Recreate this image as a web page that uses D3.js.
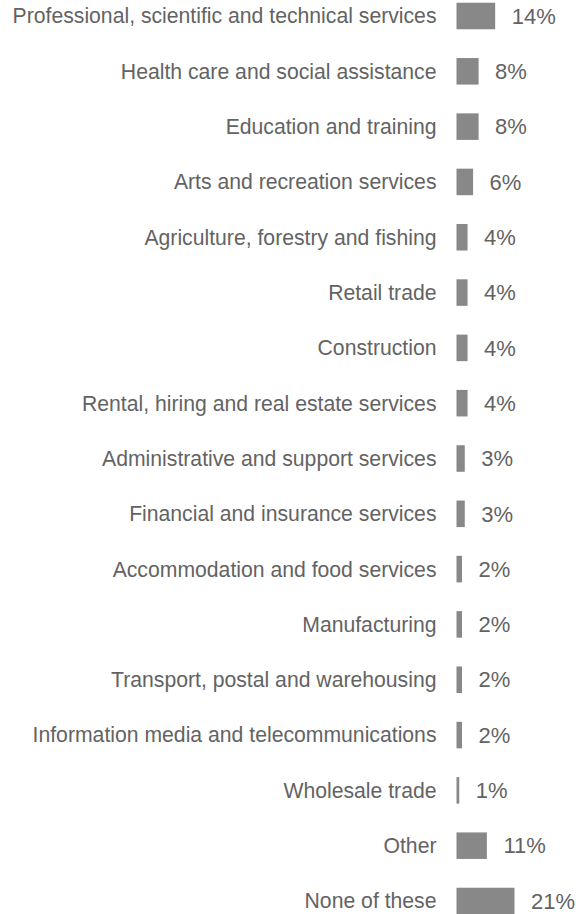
<!DOCTYPE html>
<html>
<head>
<meta charset="utf-8">
<script src="https://cdn.jsdelivr.net/npm/d3@7"></script>
<style>
  html, body { margin: 0; padding: 0; background: #ffffff; }
  svg { display: block; }
</style>
</head>
<body>
<div id="chart"></div>
<script>
// Share of respondents by industry
const categories = [
  "Professional, scientific and technical services",
  "Health care and social assistance",
  "Education and training",
  "Arts and recreation services",
  "Agriculture, forestry and fishing",
  "Retail trade",
  "Construction",
  "Rental, hiring and real estate services",
  "Administrative and support services",
  "Financial and insurance services",
  "Accommodation and food services",
  "Manufacturing",
  "Transport, postal and warehousing",
  "Information media and telecommunications",
  "Wholesale trade",
  "Other",
  "None of these"
];
const values = [14, 8, 8, 6, 4, 4, 4, 4, 3, 3, 2, 2, 2, 2, 1, 11, 21];
const valueLabels = values.map(v => v + "%");

const width = 585, height = 914;
const barColor = "#888888";
const textColor = "#636363";
const fontFamily = "'Liberation Sans', Arial, Helvetica, sans-serif";

const svg = d3.select("#chart").append("svg")
  .attr("width", width)
  .attr("height", height);

// Row centres
const y = d3.scalePoint()
  .domain(categories)
  .range([16, 901]);

const barH = y.step() * 0.48;

const x = d3.scaleLinear()
  .domain([0, 21])
  .range([456.5, 514.5]);

const rows = svg.selectAll("g.row")
  .data(categories.map((c, i) => ({ c, v: values[i], label: valueLabels[i] })))
  .join("g")
  .attr("class", "row");

rows.append("rect")
  .attr("x", x(0))
  .attr("y", d => y(d.c) - barH / 2)
  .attr("width", d => x(d.v) - x(0))
  .attr("height", barH)
  .attr("fill", barColor);

rows.append("text")
  .attr("x", x(0) - 20)
  .attr("y", d => y(d.c))
  .attr("dy", "0.35em")
  .attr("text-anchor", "end")
  .attr("font-family", fontFamily)
  .attr("font-size", 21.2)
  .attr("fill", textColor)
  .text(d => d.c);

rows.append("text")
  .attr("x", d => x(d.v) + 16.5)
  .attr("y", d => y(d.c))
  .attr("dy", "0.35em")
  .attr("text-anchor", "start")
  .attr("font-family", fontFamily)
  .attr("font-size", 22)
  .attr("fill", textColor)
  .text(d => d.label);
</script>
</body>
</html>
